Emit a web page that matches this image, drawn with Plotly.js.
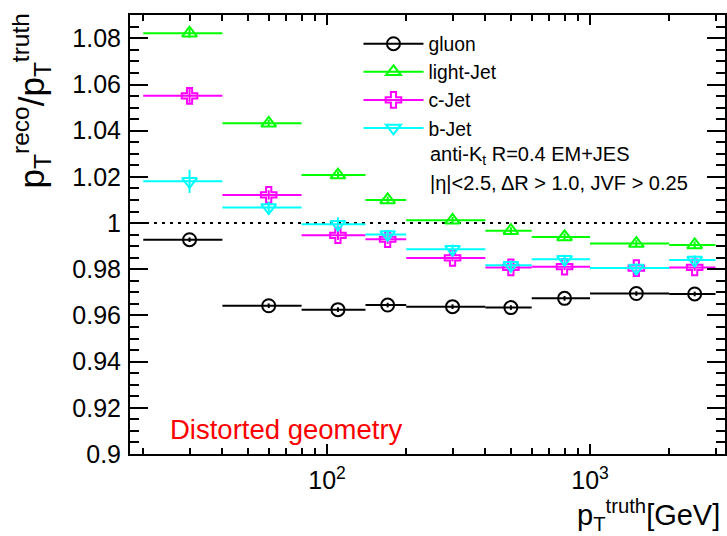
<!DOCTYPE html>
<html>
<head>
<meta charset="utf-8">
<script src="https://cdn.plot.ly/plotly-3.0.1.min.js"></script>
<style>
html,body{margin:0;padding:0;background:#fff;}
#chart{width:727px;height:536px;}
</style>
</head>
<body>
<div id="chart"></div>
<script>
// ---- data ----
const binLow    = [20, 40, 80, 140, 200, 400, 600, 1000, 2000];
const binHigh   = [40, 80, 140, 200, 400, 600, 1000, 2000, 3000];
const binCenter = [30, 60, 110, 170, 300, 500, 800, 1500, 2500];

const gluon    = [0.9928, 0.9642, 0.9625, 0.9645, 0.9638, 0.9634, 0.9674, 0.9695, 0.9693];
const lightJet = [1.0822, 1.0432, 1.0208, 1.0100, 1.0012, 0.9967, 0.9940, 0.9911, 0.9905];
const cJet     = [1.0551, 1.0122, 0.9947, 0.9930, 0.9849, 0.9808, 0.9811, 0.9805, 0.9808];
const bJet     = [1.0181, 1.0067, 0.9995, 0.9951, 0.9887, 0.9817, 0.9843, 0.9805, 0.9840];

const gluonErr = [0.0010, 0.0010, 0.0010, 0.0010, 0.0010, 0.0010, 0.0010, 0.0010, 0.0010];
const lightErr = [0.0020, 0.0015, 0.0015, 0.0015, 0.0015, 0.0015, 0.0015, 0.0015, 0.0015];
const cErr     = [0.0030, 0.0020, 0.0020, 0.0020, 0.0015, 0.0015, 0.0015, 0.0015, 0.0015];
const bErr     = [0.0050, 0.0025, 0.0030, 0.0020, 0.0020, 0.0020, 0.0020, 0.0020, 0.0020];

const seriesNames = ['gluon', 'light-Jet', 'c-Jet', 'b-Jet'];
const yTickVals = [0.9, 0.92, 0.94, 0.96, 0.98, 1.0, 1.02, 1.04, 1.06, 1.08];
const yTickText = ['0.9', '0.92', '0.94', '0.96', '0.98', '1', '1.02', '1.04', '1.06', '1.08'];
const xTickVals = [100, 1000];
const xTickText = ['10<sup>2</sup>', '10<sup>3</sup>'];
const xMinorVals = [20, 30, 40, 50, 60, 70, 80, 90, 200, 300, 400, 500, 600, 700, 800, 900, 2000, 3000];

// ---- build traces ----
function interleave(arr) {
  const out = [];
  arr.forEach((v, i) => { if (i) out.push(null); out.push(v); });
  return out;
}
const FONT = '"Liberation Sans", Arial, Helvetica, sans-serif';

function makeTrace(name, vals, errs, color, symbol) {
  const plus = binCenter.map((c, i) => binHigh[i] - c);
  const minus = binCenter.map((c, i) => c - binLow[i]);
  return {
    type: 'scatter',
    mode: 'lines+markers',
    name: name,
    x: interleave(binCenter),
    y: interleave(vals),
    connectgaps: false,
    line: {color: color, width: 2},
    marker: {symbol: symbol, size: 13, color: color, line: {color: color, width: 2}},
    error_x: {type: 'data', symmetric: false, array: interleave(plus), arrayminus: interleave(minus),
              color: color, thickness: 2, width: 0},
    error_y: {type: 'data', array: interleave(errs), color: color, thickness: 2, width: 0},
    cliponaxis: false
  };
}

const traces = [
  makeTrace(seriesNames[0], gluon, gluonErr, '#000000', 'circle-open'),
  makeTrace(seriesNames[1], lightJet, lightErr, '#00ff00', 'triangle-up-open'),
  makeTrace(seriesNames[2], cJet, cErr, '#ff00ff', 'cross-open'),
  makeTrace(seriesNames[3], bJet, bErr, '#00ffff', 'triangle-down-open')
];

const layout = {
  width: 727, height: 536,
  margin: {l: 130, r: 2, t: 15, b: 82},
  paper_bgcolor: '#ffffff', plot_bgcolor: '#ffffff',
  font: {family: FONT, color: '#000'},
  showlegend: true,
  legend: {
    x: 0.384, y: 0.978, xanchor: 'left', yanchor: 'top',
    bgcolor: 'rgba(0,0,0,0)', borderwidth: 0,
    font: {family: FONT, size: 19.3, color: '#000'},
    itemwidth: 60, tracegroupgap: 0, traceorder: 'normal'
  },
  xaxis: {
    type: 'log',
    range: [Math.log10(17.81), Math.log10(3260)],
    showline: true, linewidth: 2, linecolor: '#000', mirror: 'ticks',
    showgrid: false, zeroline: false,
    ticks: 'inside', ticklen: 10, tickwidth: 2, tickcolor: '#000',
    tickmode: 'array', tickvals: xTickVals, ticktext: xTickText,
    tickfont: {family: FONT, size: 25, color: '#000'},
    ticklabelstandoff: 3,
    minor: {tickmode: 'array', tickvals: xMinorVals, ticks: 'inside', ticklen: 6, tickwidth: 2, tickcolor: '#000', showgrid: false}
  },
  yaxis: {
    range: [0.9, 1.0901],
    showline: true, linewidth: 2, linecolor: '#000', mirror: 'ticks',
    showgrid: false, zeroline: false,
    ticks: 'inside', ticklen: 18, tickwidth: 2, tickcolor: '#000',
    tickmode: 'array', tickvals: yTickVals, ticktext: yTickText,
    tickfont: {family: FONT, size: 25, color: '#000'},
    ticklabelstandoff: 2,
    minor: {dtick: 0.005, tick0: 0.9, ticks: 'inside', ticklen: 9, tickwidth: 2, tickcolor: '#000', showgrid: false}
  },
  shapes: [{
    type: 'line', xref: 'paper', yref: 'y', x0: 0, x1: 1, y0: 1, y1: 1,
    line: {color: '#000', width: 2, dash: '3px,5px'}, layer: 'below'
  }],
  annotations: [
    {xref: 'paper', yref: 'paper', x: 0.5, y: 0.68, xanchor: 'left', yanchor: 'middle', showarrow: false,
     text: 'anti-K<sub>t</sub> R=0.4 EM+JES', font: {family: FONT, size: 20, color: '#000'}},
    {xref: 'paper', yref: 'paper', x: 0.5, y: 0.617, xanchor: 'left', yanchor: 'middle', showarrow: false,
     text: '|η|<2.5, ΔR > 1.0, JVF > 0.25', font: {family: FONT, size: 20, color: '#000'}},
    {xref: 'paper', yref: 'paper', x: 0.064, y: 0.055, xanchor: 'left', yanchor: 'middle', showarrow: false,
     text: 'Distorted geometry', font: {family: FONT, size: 27.5, color: '#ff0000'}},
    {xref: 'paper', yref: 'paper', x: 0.995, y: -0.14, xanchor: 'right', yanchor: 'middle', showarrow: false,
     text: 'p<sub>T</sub><sup>truth</sup>[GeV]', font: {family: FONT, size: 29, color: '#000'}},
    {xref: 'paper', yref: 'paper', x: -0.165, y: 0.805, xanchor: 'center', yanchor: 'middle', showarrow: false,
     textangle: -90,
     text: 'p<sub>T</sub><sup>reco</sup>/p<sub>T</sub><sup>truth</sup>', font: {family: FONT, size: 35, color: '#000'}}
  ]
};

Plotly.newPlot('chart', traces, layout, {displayModeBar: false, staticPlot: true});
</script>
</body>
</html>
